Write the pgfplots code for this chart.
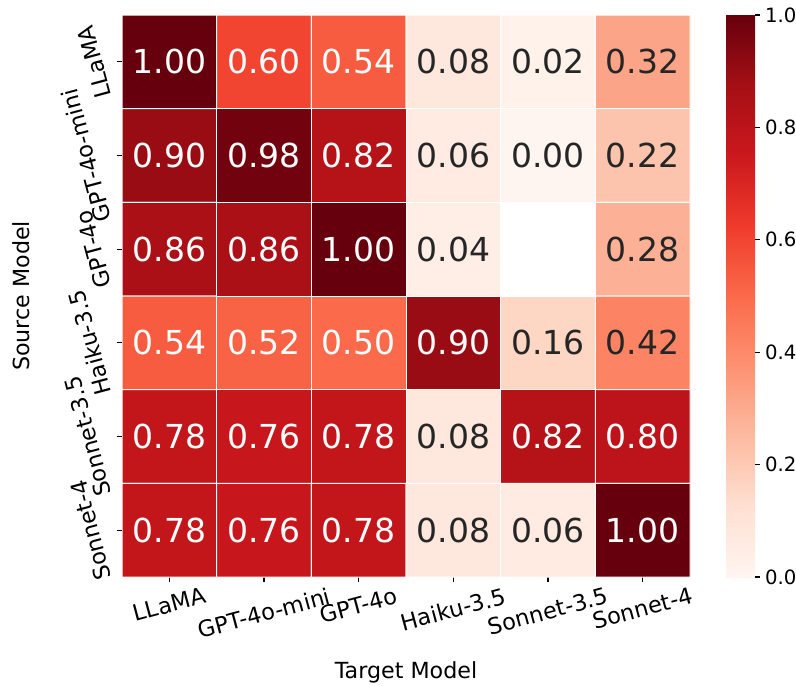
\documentclass[border=0pt]{standalone}
\usepackage{pgfplots}
\pgfplotsset{compat=1.18}
\usepackage{fontspec}
\setmainfont{DejaVu Sans}
\definecolor{darktext}{RGB}{38,38,38}
\newcommand{\ticksize}{\fontsize{22.5bp}{27bp}\selectfont}
\newcommand{\cbsize}{\fontsize{19.7bp}{23bp}\selectfont}
\newcommand{\cellsize}{\fontsize{33bp}{40bp}\selectfont}
\begin{document}
\begin{tikzpicture}
\path[use as bounding box] (0,0) rectangle (796bp,686bp);
\begin{axis}[
  at={(122bp,109bp)}, anchor=south west,
  width=568bp, height=562bp, scale only axis,
  xmin=-0.5, xmax=5.5, ymin=-0.5, ymax=5.5, y dir=reverse,
  axis line style={draw=none},
  tick align=outside, major tick length=4.9bp,
  tick style={black, line width=1.1bp},
  xtick pos=bottom, ytick pos=left,
  xtick={0,...,5}, ytick={0,...,5},
  xticklabels={\rotatebox{15}{LLaMA},\rotatebox{15}{GPT-4o-mini},\rotatebox{15}{GPT-4o},\rotatebox{15}{Haiku-3.5},\rotatebox{15}{Sonnet-3.5},\rotatebox{15}{Sonnet-4}},
  yticklabels={\rotatebox{105}{LLaMA},\rotatebox{105}{GPT-4o-mini},\rotatebox{105}{GPT-4o},\rotatebox{105}{Haiku-3.5},\rotatebox{105}{Sonnet-3.5},\rotatebox{105}{Sonnet-4}},
  every tick label/.append style={inner sep=0pt, font=\ticksize},
  xticklabel style={anchor=north},
  yticklabel style={anchor=east},
  xticklabel shift=4.9bp, yticklabel shift=4.9bp,
  xlabel={Target Model}, ylabel={Source Model},
  every axis x label/.style={at={(axis description cs:0.5,-0.169)}, anchor=center, font=\fontsize{22.2bp}{27bp}\selectfont},
  every axis y label/.style={at={(axis description cs:-0.178,0.5)}, anchor=center, rotate=90, font=\fontsize{22.2bp}{27bp}\selectfont},
  colormap={reds}{rgb255=(255,245,240) rgb255=(254,224,210) rgb255=(252,187,161) rgb255=(252,146,114) rgb255=(251,106,74) rgb255=(239,59,44) rgb255=(203,24,29) rgb255=(165,15,21) rgb255=(103,0,13)},
  point meta min=0, point meta max=1,
  colorbar,
  colorbar/width=29bp,
  colorbar shift/.style={},
  colorbar style={
    at={(parent axis.north east)}, anchor=north west, xshift=36bp,
    height=562bp, scale only axis,
    ymin=0, ymax=1,
    ytick={0,0.2,0.4,0.6,0.8,1},
    axis line style={draw=none},
    tick align=outside, major tick length=4.9bp,
    tick style={black, line width=1.1bp},
    yticklabel pos=right, ytick pos=right,
    yticklabel style={/pgf/number format/.cd, fixed, fixed zerofill, precision=1, /tikz/.cd, font=\cbsize, inner sep=0pt},
    yticklabel shift=4.9bp,
    /pgf/number format/assume math mode=true,
  },
]
\addplot[matrix plot*, mesh/cols=6, point meta=explicit, draw=white, line width=1bp] table[meta=c] {
x y c
0 0 1.00
1 0 0.60
2 0 0.54
3 0 0.08
4 0 0.02
5 0 0.32
0 1 0.90
1 1 0.98
2 1 0.82
3 1 0.06
4 1 0.00
5 1 0.22
0 2 0.86
1 2 0.86
2 2 1.00
3 2 0.04
4 2 0.00
5 2 0.28
0 3 0.54
1 3 0.52
2 3 0.50
3 3 0.90
4 3 0.16
5 3 0.42
0 4 0.78
1 4 0.76
2 4 0.78
3 4 0.08
4 4 0.82
5 4 0.80
0 5 0.78
1 5 0.76
2 5 0.78
3 5 0.08
4 5 0.06
5 5 1.00
};
% missing value (GPT-4o -> Sonnet-3.5): blank cell
\addplot[fill=white, draw=white, line width=1bp] coordinates {(3.5,1.5) (4.5,1.5) (4.5,2.5) (3.5,2.5)} -- cycle;
% white annotations
\addplot[only marks, mark=none, nodes near coords, point meta=explicit symbolic,
  nodes near coords style={anchor=center, text=white, font=\cellsize}] table[meta=l] {
x y l
0 0 1.00
1 0 0.60
2 0 0.54
0 1 0.90
1 1 0.98
2 1 0.82
0 2 0.86
1 2 0.86
2 2 1.00
0 3 0.54
1 3 0.52
2 3 0.50
3 3 0.90
0 4 0.78
1 4 0.76
2 4 0.78
4 4 0.82
5 4 0.80
0 5 0.78
1 5 0.76
2 5 0.78
5 5 1.00
};
% dark annotations
\addplot[only marks, mark=none, nodes near coords, point meta=explicit symbolic,
  nodes near coords style={anchor=center, text=darktext, font=\cellsize}] table[meta=l] {
x y l
3 0 0.08
4 0 0.02
5 0 0.32
3 1 0.06
4 1 0.00
5 1 0.22
3 2 0.04
5 2 0.28
4 3 0.16
5 3 0.42
3 4 0.08
3 5 0.08
4 5 0.06
};
\end{axis}
\end{tikzpicture}
\end{document}
